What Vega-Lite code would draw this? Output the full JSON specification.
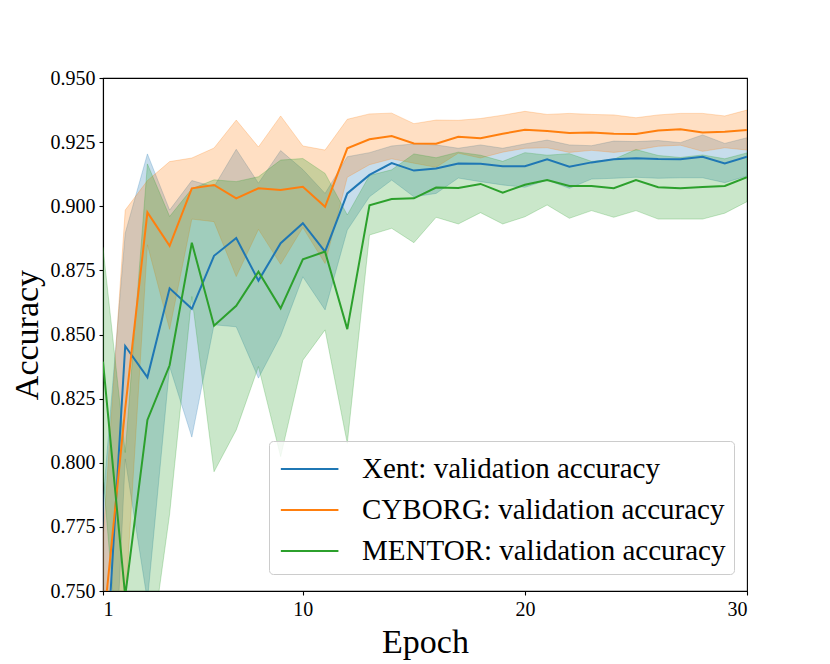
{
  "$schema": "https://vega.github.io/schema/vega-lite/v6.json",
  "width": 644,
  "height": 513,
  "autosize": {"type": "none"},
  "padding": {"left": 103, "top": 78, "right": 83, "bottom": 73},
  "background": "white",
  "config": {
    "font": "Liberation Serif",
    "view": {"stroke": "black", "strokeWidth": 1.1},
    "axis": {"grid": false, "domainColor": "black", "tickColor": "black", "labelColor": "black", "titleColor": "black", "labelFontSize": 20, "titleFontSize": 34, "titleFontWeight": "normal", "tickSize": 4, "domainWidth": 1.1, "tickWidth": 1.1}
  },
  "datasets": {
    "acc": [
      {"epoch":1,"model":"Xent","acc":0.700,"lo":0.615,"hi":0.785},
      {"epoch":2,"model":"Xent","acc":0.8455,"lo":0.8015,"hi":0.8895},
      {"epoch":3,"model":"Xent","acc":0.8333,"lo":0.7462,"hi":0.9204},
      {"epoch":4,"model":"Xent","acc":0.868,"lo":0.8375,"hi":0.8985},
      {"epoch":5,"model":"Xent","acc":0.860,"lo":0.810,"hi":0.910},
      {"epoch":6,"model":"Xent","acc":0.8807,"lo":0.8538,"hi":0.9076},
      {"epoch":7,"model":"Xent","acc":0.8876,"lo":0.853,"hi":0.9222},
      {"epoch":8,"model":"Xent","acc":0.871,"lo":0.833,"hi":0.909},
      {"epoch":9,"model":"Xent","acc":0.8856,"lo":0.8495,"hi":0.9217},
      {"epoch":10,"model":"Xent","acc":0.8934,"lo":0.8725,"hi":0.9143},
      {"epoch":11,"model":"Xent","acc":0.8823,"lo":0.8596,"hi":0.905},
      {"epoch":12,"model":"Xent","acc":0.905,"lo":0.8907,"hi":0.9193},
      {"epoch":13,"model":"Xent","acc":0.9122,"lo":0.9037,"hi":0.9209},
      {"epoch":14,"model":"Xent","acc":0.9168,"lo":0.9102,"hi":0.9235},
      {"epoch":15,"model":"Xent","acc":0.9139,"lo":0.9037,"hi":0.9243},
      {"epoch":16,"model":"Xent","acc":0.9147,"lo":0.905,"hi":0.9239},
      {"epoch":17,"model":"Xent","acc":0.9167,"lo":0.911,"hi":0.9226},
      {"epoch":18,"model":"Xent","acc":0.9166,"lo":0.9096,"hi":0.9239},
      {"epoch":19,"model":"Xent","acc":0.9156,"lo":0.9083,"hi":0.9226},
      {"epoch":20,"model":"Xent","acc":0.9156,"lo":0.9074,"hi":0.9243},
      {"epoch":21,"model":"Xent","acc":0.9183,"lo":0.9102,"hi":0.9258},
      {"epoch":22,"model":"Xent","acc":0.9154,"lo":0.907,"hi":0.9239},
      {"epoch":23,"model":"Xent","acc":0.9171,"lo":0.9106,"hi":0.9236},
      {"epoch":24,"model":"Xent","acc":0.9183,"lo":0.9109,"hi":0.9254},
      {"epoch":25,"model":"Xent","acc":0.9187,"lo":0.9113,"hi":0.9252},
      {"epoch":26,"model":"Xent","acc":0.9184,"lo":0.9109,"hi":0.9256},
      {"epoch":27,"model":"Xent","acc":0.9183,"lo":0.9111,"hi":0.9248},
      {"epoch":28,"model":"Xent","acc":0.9193,"lo":0.9111,"hi":0.9278},
      {"epoch":29,"model":"Xent","acc":0.9167,"lo":0.9092,"hi":0.9245},
      {"epoch":30,"model":"Xent","acc":0.9193,"lo":0.9118,"hi":0.9267},
      {"epoch":1,"model":"CYBORG","acc":0.735,"lo":0.700,"hi":0.770},
      {"epoch":2,"model":"CYBORG","acc":0.8211,"lo":0.7437,"hi":0.8985},
      {"epoch":3,"model":"CYBORG","acc":0.8976,"lo":0.885,"hi":0.910},
      {"epoch":4,"model":"CYBORG","acc":0.8846,"lo":0.852,"hi":0.9174},
      {"epoch":5,"model":"CYBORG","acc":0.907,"lo":0.895,"hi":0.9188},
      {"epoch":6,"model":"CYBORG","acc":0.9083,"lo":0.894,"hi":0.9227},
      {"epoch":7,"model":"CYBORG","acc":0.9031,"lo":0.8726,"hi":0.9336},
      {"epoch":8,"model":"CYBORG","acc":0.907,"lo":0.891,"hi":0.9231},
      {"epoch":9,"model":"CYBORG","acc":0.9063,"lo":0.8774,"hi":0.9352},
      {"epoch":10,"model":"CYBORG","acc":0.9076,"lo":0.8917,"hi":0.9235},
      {"epoch":11,"model":"CYBORG","acc":0.8998,"lo":0.8777,"hi":0.9219},
      {"epoch":12,"model":"CYBORG","acc":0.9226,"lo":0.9113,"hi":0.9339},
      {"epoch":13,"model":"CYBORG","acc":0.9261,"lo":0.9162,"hi":0.936},
      {"epoch":14,"model":"CYBORG","acc":0.9274,"lo":0.9185,"hi":0.9363},
      {"epoch":15,"model":"CYBORG","acc":0.9245,"lo":0.9168,"hi":0.9322},
      {"epoch":16,"model":"CYBORG","acc":0.9244,"lo":0.9152,"hi":0.9336},
      {"epoch":17,"model":"CYBORG","acc":0.9271,"lo":0.9207,"hi":0.9335},
      {"epoch":18,"model":"CYBORG","acc":0.9265,"lo":0.9188,"hi":0.9342},
      {"epoch":19,"model":"CYBORG","acc":0.9283,"lo":0.9211,"hi":0.9355},
      {"epoch":20,"model":"CYBORG","acc":0.9298,"lo":0.9226,"hi":0.937},
      {"epoch":21,"model":"CYBORG","acc":0.9293,"lo":0.9228,"hi":0.9358},
      {"epoch":22,"model":"CYBORG","acc":0.9286,"lo":0.921,"hi":0.9362},
      {"epoch":23,"model":"CYBORG","acc":0.9288,"lo":0.9218,"hi":0.9358},
      {"epoch":24,"model":"CYBORG","acc":0.9283,"lo":0.921,"hi":0.9356},
      {"epoch":25,"model":"CYBORG","acc":0.9282,"lo":0.9219,"hi":0.9345},
      {"epoch":26,"model":"CYBORG","acc":0.9295,"lo":0.9234,"hi":0.9356},
      {"epoch":27,"model":"CYBORG","acc":0.93,"lo":0.9238,"hi":0.9362},
      {"epoch":28,"model":"CYBORG","acc":0.9288,"lo":0.9214,"hi":0.9362},
      {"epoch":29,"model":"CYBORG","acc":0.929,"lo":0.9228,"hi":0.9352},
      {"epoch":30,"model":"CYBORG","acc":0.9297,"lo":0.9219,"hi":0.9375},
      {"epoch":1,"model":"MENTOR","acc":0.8394,"lo":0.795,"hi":0.884},
      {"epoch":2,"model":"MENTOR","acc":0.748,"lo":0.692,"hi":0.804},
      {"epoch":3,"model":"MENTOR","acc":0.8167,"lo":0.717,"hi":0.9165},
      {"epoch":4,"model":"MENTOR","acc":0.838,"lo":0.780,"hi":0.896},
      {"epoch":5,"model":"MENTOR","acc":0.8858,"lo":0.8648,"hi":0.9068},
      {"epoch":6,"model":"MENTOR","acc":0.8534,"lo":0.7965,"hi":0.9103},
      {"epoch":7,"model":"MENTOR","acc":0.8612,"lo":0.8128,"hi":0.9096},
      {"epoch":8,"model":"MENTOR","acc":0.8745,"lo":0.8375,"hi":0.9115},
      {"epoch":9,"model":"MENTOR","acc":0.8602,"lo":0.8024,"hi":0.918},
      {"epoch":10,"model":"MENTOR","acc":0.8793,"lo":0.840,"hi":0.9186},
      {"epoch":11,"model":"MENTOR","acc":0.8823,"lo":0.8518,"hi":0.9128},
      {"epoch":12,"model":"MENTOR","acc":0.8521,"lo":0.8076,"hi":0.8966},
      {"epoch":13,"model":"MENTOR","acc":0.9004,"lo":0.8888,"hi":0.912},
      {"epoch":14,"model":"MENTOR","acc":0.9028,"lo":0.8914,"hi":0.9142},
      {"epoch":15,"model":"MENTOR","acc":0.9031,"lo":0.8858,"hi":0.9204},
      {"epoch":16,"model":"MENTOR","acc":0.9073,"lo":0.8957,"hi":0.9189},
      {"epoch":17,"model":"MENTOR","acc":0.9071,"lo":0.8931,"hi":0.9211},
      {"epoch":18,"model":"MENTOR","acc":0.9087,"lo":0.8975,"hi":0.9199},
      {"epoch":19,"model":"MENTOR","acc":0.9053,"lo":0.8931,"hi":0.9175},
      {"epoch":20,"model":"MENTOR","acc":0.9084,"lo":0.8959,"hi":0.9209},
      {"epoch":21,"model":"MENTOR","acc":0.9102,"lo":0.9005,"hi":0.9199},
      {"epoch":22,"model":"MENTOR","acc":0.9079,"lo":0.8953,"hi":0.9205},
      {"epoch":23,"model":"MENTOR","acc":0.9079,"lo":0.8983,"hi":0.9175},
      {"epoch":24,"model":"MENTOR","acc":0.907,"lo":0.8957,"hi":0.9183},
      {"epoch":25,"model":"MENTOR","acc":0.9102,"lo":0.8983,"hi":0.9221},
      {"epoch":26,"model":"MENTOR","acc":0.9074,"lo":0.895,"hi":0.9198},
      {"epoch":27,"model":"MENTOR","acc":0.907,"lo":0.895,"hi":0.919},
      {"epoch":28,"model":"MENTOR","acc":0.9075,"lo":0.895,"hi":0.92},
      {"epoch":29,"model":"MENTOR","acc":0.9079,"lo":0.8973,"hi":0.9185},
      {"epoch":30,"model":"MENTOR","acc":0.9113,"lo":0.9018,"hi":0.9208}
    ]
  },
  "data": {"name": "acc"},
  "encoding": {
    "x": {"field": "epoch", "type": "quantitative", "scale": {"domain": [1, 30], "nice": false, "zero": false},
      "axis": {"values": [1, 10, 20, 30], "format": "d", "title": "Epoch", "labelPadding": 4, "titlePadding": 6}}
  },
  "layer": [
    {
      "mark": {"type": "area", "clip": true, "fillOpacity": 0.25, "strokeOpacity": 0.25, "strokeWidth": 1},
      "encoding": {
        "y": {"field": "lo", "type": "quantitative", "scale": {"domain": [0.75, 0.95], "nice": false, "zero": false}},
        "y2": {"field": "hi"},
        "fill": {"field": "model", "type": "nominal", "legend": null, "scale": {"domain": ["MENTOR", "CYBORG", "Xent"], "range": ["#2ca02c", "#ff7f0e", "#1f77b4"]}},
        "stroke": {"field": "model", "type": "nominal", "legend": null, "scale": {"domain": ["MENTOR", "CYBORG", "Xent"], "range": ["#2ca02c", "#ff7f0e", "#1f77b4"]}}
      }
    },
    {
      "mark": {"type": "line", "clip": true, "strokeWidth": 2},
      "encoding": {
        "y": {"field": "acc", "type": "quantitative",
          "scale": {"domain": [0.75, 0.95], "nice": false, "zero": false},
          "axis": {"values": [0.75, 0.775, 0.8, 0.825, 0.85, 0.875, 0.9, 0.925, 0.95], "format": ".3f", "title": "Accuracy", "labelPadding": 4, "titlePadding": 6}},
        "color": {"field": "model", "type": "nominal",
          "scale": {"domain": ["Xent", "CYBORG", "MENTOR"], "range": ["#1f77b4", "#ff7f0e", "#2ca02c"]},
          "legend": {"orient": "none", "legendX": 166, "legendY": 363, "title": null,
            "labelExpr": "datum.label + ': validation accuracy'",
            "labelFontSize": 29, "labelColor": "black", "labelLimit": 0,
            "symbolType": "M-0.85,0H2.18", "symbolSize": 1444, "symbolStrokeWidth": 2,
            "labelOffset": 45, "rowPadding": 6, "padding": 8,
            "strokeColor": "#cccccc", "fillColor": "rgba(255,255,255,0.8)", "cornerRadius": 4}}
      }
    }
  ]
}
